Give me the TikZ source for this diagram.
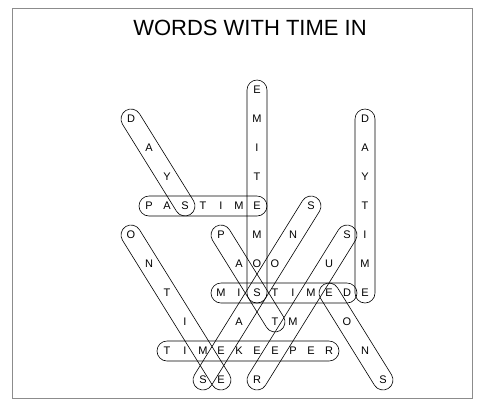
\documentclass[tikz,border=0pt]{standalone}
\usepackage{fontspec}
\setmainfont{Liberation Sans}
\usetikzlibrary{calc}
\tikzset{
  letter/.style={font=\fontsize{11}{11}\selectfont, inner sep=0pt, anchor=center},
  wordring/.style={draw=black, line width=0.6pt, rounded corners=10pt, minimum height=20pt, inner sep=0pt, fill=none},
  frame/.style={draw=black!45, line width=0.8pt},
  titletext/.style={font=\fontsize{22}{22}\selectfont, inner sep=0pt},
}
\newcommand\ringword[3]{%
  \path let \p1=($(#3.center)-(#2.center)$), \n1={atan2(\y1,\x1)}, \n2={veclen(\x1,\y1)+20} in
    node[wordring, rotate=\n1, minimum width=\n2] (#1) at ($(#2.center)!0.5!(#3.center)$) {};
}
\begin{document}
\begin{tikzpicture}[x=1pt,y=-1pt]
\useasboundingbox (0,0) rectangle (484,408);
\draw[frame] (12,8) rectangle (472,398);
\node[titletext] (title) at (250,28) {WORDS WITH TIME IN};
\foreach \c/\r/\t in {
  7/0/E, 7/1/M, 7/2/I, 7/3/T, 7/4/E, 7/5/M, 7/6/O, 7/7/S,
  1/4/P, 2/4/A, 3/4/S, 4/4/T, 5/4/I, 6/4/M,
  0/1/D, 1/2/A, 2/3/Y,
  13/1/D, 13/2/A, 13/3/Y, 13/4/T, 13/5/I, 13/6/M, 13/7/E,
  5/7/M, 6/7/I, 8/7/T, 9/7/I, 10/7/M, 11/7/E, 12/7/D,
  2/9/T, 3/9/I, 4/9/M, 5/9/E, 6/9/K, 7/9/E, 8/9/E, 9/9/P, 10/9/E, 11/9/R,
  0/5/O, 1/6/N, 2/7/T, 3/8/I, 5/10/E,
  4/10/S, 6/8/A, 8/6/O, 9/5/N, 10/4/S,
  7/10/R, 9/8/M, 11/6/U, 12/5/S,
  12/8/O, 13/9/N, 14/10/S,
  5/5/P, 6/6/A, 8/8/T}
  \node[letter] (c\c r\r) at ({131+18*\c},{90+29*\r}) {\t};
\ringword{wA}{c1r4}{c7r4}
\ringword{wB}{c7r0}{c7r7}
\ringword{wC}{c13r1}{c13r7}
\ringword{wD}{c5r7}{c12r7}
\ringword{wE}{c2r9}{c11r9}
\ringword{wF}{c0r1}{c3r4}
\ringword{wG}{c0r5}{c5r10}
\ringword{wH}{c4r10}{c10r4}
\ringword{wI}{c7r10}{c12r5}
\ringword{wJ}{c11r7}{c14r10}
\ringword{wK}{c5r5}{c8r8}
\end{tikzpicture}
\end{document}
